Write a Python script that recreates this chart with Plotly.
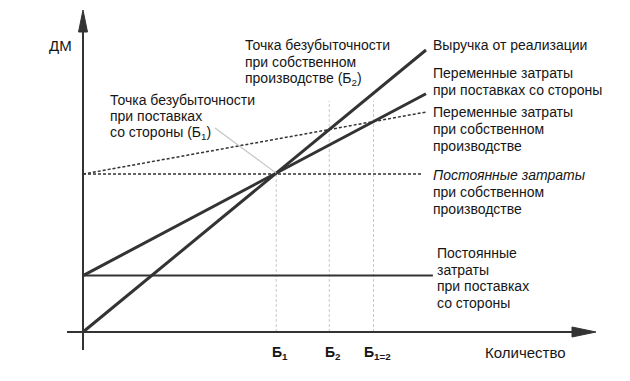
import plotly.graph_objects as go

# ---------------- data ----------------
quantity = [0, 100]
revenue = [0, 100]                  # Выручка от реализации
var_cost_outside = [20, 84.5]       # Переменные затраты при поставках со стороны
var_cost_own = [56, 78]             # Переменные затраты при собственном производстве
fixed_cost_own = [56, 56]           # Постоянные затраты при собственном производстве
fixed_own_q = [0, 99]
fixed_cost_outside = [20, 20]       # Постоянные затраты при поставках со стороны
fixed_outside_q = [0, 102]
guide_top = 82                      # upper end of the Б2 / Б1=2 guide lines
break_even_labels = ["Б<sub>1</sub>", "Б<sub>2</sub>", "Б<sub>1=2</sub>"]

# ---------------- geometry ----------------
W, H = 630, 381
X0_PX, Y0_PX = 83, 332          # origin position in pixels
SX, SY = 3.43, 2.82              # pixels per data unit
x_range = [-X0_PX / SX, (W - X0_PX) / SX]
y_range = [(Y0_PX - H) / SY, Y0_PX / SY]


def dx(px):
    return (px - X0_PX) / SX


def dy(py):
    return (Y0_PX - py) / SY


def line_params(q, v):
    k = (v[1] - v[0]) / (q[1] - q[0])
    return k, v[0] - k * q[0]


def cross(a, b):
    k1, c1 = a
    k2, c2 = b
    q = (c2 - c1) / (k1 - k2)
    return q, k1 * q + c1


L_rev = line_params(quantity, revenue)
L_out = line_params(quantity, var_cost_outside)
L_own = line_params(quantity, var_cost_own)
b1 = cross(L_rev, L_out)
b2 = cross(L_rev, L_own)
b12 = cross(L_out, L_own)

INK = "#161616"
FONT = "Liberation Sans, Arial, sans-serif"

fig = go.Figure()

# guide lines (faint)
for (q, v), top in [(b1, b1[1]), (b2, guide_top), (b12, guide_top)]:
    fig.add_trace(go.Scatter(x=[q, q], y=[0, top], mode="lines",
                             line=dict(color="#c8c8c8", width=1, dash="3px,2px"),
                             hoverinfo="skip", showlegend=False))

# dotted lines: own production
fig.add_trace(go.Scatter(x=fixed_own_q, y=fixed_cost_own, mode="lines",
                         line=dict(color="#333333", width=1.5, dash="3px,2px"),
                         showlegend=False))
fig.add_trace(go.Scatter(x=quantity, y=var_cost_own, mode="lines",
                         line=dict(color="#333333", width=1.5, dash="3px,2px"),
                         showlegend=False))
# solid lines
fig.add_trace(go.Scatter(x=fixed_outside_q, y=fixed_cost_outside, mode="lines",
                         line=dict(color="#333333", width=2), showlegend=False))
fig.add_trace(go.Scatter(x=quantity, y=var_cost_outside, mode="lines",
                         line=dict(color="#333333", width=3), showlegend=False))
fig.add_trace(go.Scatter(x=quantity, y=revenue, mode="lines",
                         line=dict(color="#333333", width=3), showlegend=False))

shapes = []
# axes
shapes.append(dict(type="line", xref="x", yref="y", x0=0, x1=0, y0=dy(350), y1=dy(28),
                   line=dict(color="#333333", width=2)))
shapes.append(dict(type="line", xref="x", yref="y", x0=dx(67), x1=dx(575), y0=0, y1=0,
                   line=dict(color="#333333", width=2)))
# arrowheads
shapes.append(dict(type="path", xref="x", yref="y",
                   path=f"M {dx(83)} {dy(10)} L {dx(78.5)} {dy(32)} L {dx(87.5)} {dy(32)} Z",
                   fillcolor="#333333", line=dict(color="#333333", width=1)))
shapes.append(dict(type="path", xref="x", yref="y",
                   path=f"M {dx(596)} {dy(332)} L {dx(572)} {dy(327)} L {dx(572)} {dy(337)} Z",
                   fillcolor="#333333", line=dict(color="#333333", width=1)))
# leader line from the Б1 caption to the break-even point
shapes.append(dict(type="line", xref="x", yref="y", x0=dx(215), y0=dy(128), x1=b1[0], y1=b1[1],
                   line=dict(color="#c4c4c4", width=1.2)))

annotations = []


def text(px, py_center, lines, size=14, xanchor="left", step=17):
    for i, s in enumerate(lines):
        annotations.append(dict(xref="paper", yref="paper", x=px / W,
                                y=1 - (py_center + i * step) / H,
                                xanchor=xanchor, yanchor="middle", align="left",
                                text=s, showarrow=False,
                                font=dict(family=FONT, size=size, color=INK)))


text(243, 45, ["Точка безубыточности", "при собственном", "производстве (Б<sub>2</sub>)"])
text(108, 100, ["Точка безубыточности", "при поставках", "со стороны (Б<sub>1</sub>)"], step=16.5)
text(431, 45, ["Выручка от реализации"])
text(431, 73, ["Переменные затраты", "при поставках со стороны"])
text(431, 112, ["Переменные затраты", "при собственном", "производстве"])
text(431, 175, ["<i>Постоянные затраты</i>", "при собственном", "производстве"])
text(435, 253, ["Постоянные", "затраты", "при поставках", "со стороны"], step=16.5)
text(60, 45, ["ДМ"], size=15, xanchor="center")
text(525, 352, ["Количество"], size=15, xanchor="center")

for (q, v), lab in zip([b1, b2, b12], break_even_labels):
    annotations.append(dict(xref="x", yref="paper", x=q, y=1 - 353 / H,
                            xanchor="center", yanchor="middle", text=f"<b>{lab}</b>",
                            xshift=4, showarrow=False,
                            font=dict(family=FONT, size=14, color=INK)))

fig.update_layout(
    width=W, height=H,
    margin=dict(l=0, r=0, t=0, b=0),
    paper_bgcolor="white", plot_bgcolor="white",
    font=dict(family=FONT, size=14, color=INK),
    xaxis=dict(range=x_range, visible=False, fixedrange=True),
    yaxis=dict(range=y_range, visible=False, fixedrange=True),
    shapes=shapes, annotations=annotations,
    showlegend=False,
)

fig.write_html("out.html", config={"displayModeBar": False},
               post_script="document.body.style.margin='0px';")
